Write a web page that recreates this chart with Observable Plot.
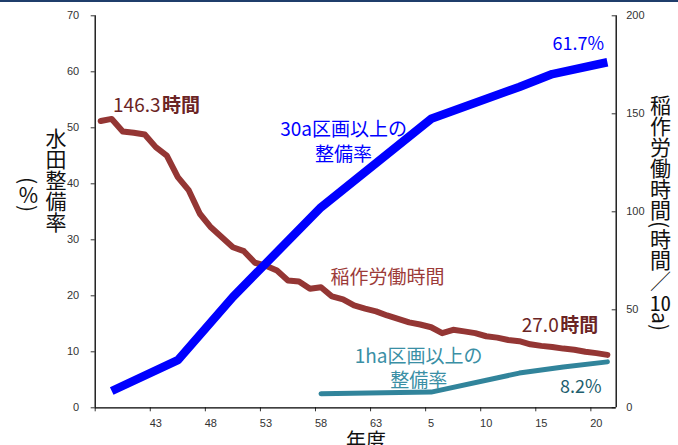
<!DOCTYPE html>
<html>
<head>
<meta charset="utf-8">
<script src="https://cdn.jsdelivr.net/npm/d3@7"></script>
<script src="https://cdn.jsdelivr.net/npm/@observablehq/plot@0.6"></script>
<style>
  html, body { margin: 0; padding: 0; overflow: hidden; background: #fff; }
  #chart { position: relative; width: 678px; height: 445px; overflow: hidden; }
  .topbar { position: absolute; left: 0; top: 0; width: 678px; height: 2px; background: #1f3d6b; }
  .vt { position: absolute; writing-mode: vertical-rl; font-family: "Noto Sans CJK JP", sans-serif;
        font-size: 21px; line-height: 21px; color: #111; white-space: nowrap; }
  .tcy { text-combine-upright: all; }
  .up { text-orientation: upright; }
  .xt { position: absolute; font-family: "Noto Sans CJK JP", sans-serif; font-size: 20px; line-height: 18px;
        color: #111; white-space: nowrap; transform: translateX(-50%); }
</style>
</head>
<body>
<div id="chart">
  <div class="topbar"></div>
</div>
<script>
// 稲作労働時間 (時間/10a), by year
const laborYears = [1963,1964,1965,1966,1967,1968,1969,1970,1971,1972,1973,1974,1975,1976,1977,1978,1979,1980,
  1981,1982,1983,1984,1985,1986,1987,1988,1989,1990,1991,1992,1993,1994,1995,1996,1997,1998,1999,2000,
  2001,2002,2003,2004,2005,2006,2007,2008,2009];
const laborHours = [146.3,147.4,141.0,140.3,139.4,133.0,128.7,117.7,110.9,99.0,92.1,87.0,81.9,79.9,74.0,72.5,70.0,65.0,
  64.4,60.7,61.5,56.8,55.3,52.2,50.6,49.2,47.1,45.4,43.6,42.5,41.1,38.1,39.8,39.0,38.1,36.5,35.8,34.6,
  34.0,32.4,31.6,31.0,30.2,29.6,28.6,27.9,27.0];

// 30a区画以上の整備率 (%)
const rate30aYears = [1964,1970,1975,1983,1993,2001,2004,2009];
const rate30a = [3.0,8.5,19.8,35.8,51.6,57.3,59.6,61.7];

// 1ha区画以上の整備率 (%)
const rate1haYears = [1983,1993,2001,2005,2009];
const rate1ha = [2.5,2.8,6.2,7.3,8.2];

// 年度 axis: western year of each labelled tick and its era label
const tickYears = [1968,1973,1978,1983,1988,1993,1998,2003,2008];
const tickLabels = ["43","48","53","58","63","5","10","15","20"];
const leftTicks = [0,10,20,30,40,50,60,70];
const rightTicks = [0,50,100,150,200];

const name30a = "30a区画以上の\n整備率";
const name1ha = "1ha区画以上の\n整備率";
const nameLabor = "稲作労働時間";
const hourUnit = "時間";

// hours (0–200) share the percent scale (0–70)
const k = 70 / 200;
const xDomain = [1962.5, 2009.8];
const eraLabel = new Map(tickYears.map((y, i) => [y, tickLabels[i]]));
const boundaries = [tickYears[0] - 5, ...tickYears].map(y => y - 0.5);

const labor = laborYears.map((year, i) => ({year, hours: laborHours[i], v: laborHours[i] * k}));
const r30 = rate30aYears.map((year, i) => ({year, v: rate30a[i]}));
const r1 = rate1haYears.map((year, i) => ({year, v: rate1ha[i]}));

const jp = "Noto Sans CJK JP";
const darkRed = "#6b2424";

const plot = Plot.plot({
  width: 678,
  height: 445,
  marginTop: 15.3,
  marginBottom: 37.7,
  marginLeft: 94.7,
  marginRight: 62.3,
  style: {fontFamily: "'Liberation Sans', Arial, sans-serif", fontSize: "11px", color: "#333", background: "transparent"},
  x: {domain: xDomain},
  y: {domain: [0, 70]},
  marks: [
    Plot.axisY({anchor: "left", ticks: leftTicks, tickSize: 4, tickPadding: 12, label: null}),
    Plot.axisY({anchor: "right", ticks: rightTicks.map(t => t * k), tickSize: 0, tickPadding: 10,
      tickFormat: d => String(Math.round(d / k)), label: null}),
    Plot.ruleY(rightTicks, {y: d => d * k, x1: xDomain[1], x2: xDomain[1], insetLeft: -4, stroke: "#333"}),
    Plot.axisX({ticks: boundaries, tickSize: 4, tickFormat: () => "", label: null}),
    Plot.axisX({ticks: tickYears, tickSize: 0, tickPadding: 11, tickFormat: d => eraLabel.get(d), label: null}),
    Plot.ruleY([0], {stroke: "#000", strokeWidth: 1.3}),
    Plot.ruleX(xDomain, {stroke: "#000", strokeWidth: 1.3}),

    Plot.line(r1, {x: "year", y: "v", stroke: "#31849b", strokeWidth: 5}),
    Plot.line(labor, {x: "year", y: "v", stroke: "#943634", strokeWidth: 6}),
    Plot.line(r30, {x: "year", y: "v", stroke: "#0000ff", strokeWidth: 8.5, strokeLinecap: "butt"}),

    // start / end values of labour hours
    Plot.text([labor[0]], {x: "year", y: "v", text: d => d.hours.toFixed(1), dx: 59.8, dy: -15.5,
      textAnchor: "end", fill: darkRed, fontSize: 19, fontFamily: jp}),
    Plot.text([labor[0]], {x: "year", y: "v", text: () => hourUnit, dx: 61.3, dy: -15.5,
      textAnchor: "start", fill: darkRed, fontSize: 19, fontFamily: jp, fontWeight: "bold"}),
    Plot.text([labor[labor.length - 1]], {x: "year", y: "v", text: d => d.hours.toFixed(1), dx: -48.7, dy: -29.4,
      textAnchor: "end", fill: darkRed, fontSize: 19, fontFamily: jp}),
    Plot.text([labor[labor.length - 1]], {x: "year", y: "v", text: () => hourUnit, dx: -47.2, dy: -29.4,
      textAnchor: "start", fill: darkRed, fontSize: 19, fontFamily: jp, fontWeight: "bold"}),

    // end values of the two rates
    Plot.text([r30[r30.length - 1]], {x: "year", y: "v", text: d => d.v.toFixed(1) + "%", dx: -29.2, dy: -17.8,
      fill: "#0000ff", fontSize: 18, fontFamily: jp}),
    Plot.text([r1[r1.length - 1]], {x: "year", y: "v", text: d => d.v.toFixed(1) + "%", dx: -26.7, dy: 25.6,
      fill: "#215e6e", fontSize: 18, fontFamily: jp}),

    // series names
    Plot.text([r30[3]], {x: "year", y: "v", text: () => name30a, dx: 22.6, dy: -67.3, lineHeight: 1.32,
      fill: "#0000ff", fontSize: 19, fontFamily: jp}),
    Plot.text([labor[20]], {x: "year", y: "v", text: () => nameLabor, dx: 9.6, dy: -9.8, textAnchor: "start",
      fill: "#9c3b39", fontSize: 19, fontFamily: jp}),
    Plot.text([r1[1]], {x: "year", y: "v", text: () => name1ha, dx: -12.5, dy: -24.6, lineHeight: 1.28,
      fill: "#3a8fa5", fontSize: 19, fontFamily: jp})
  ]
});

const root = document.getElementById("chart");
root.appendChild(plot);

// axis titles
const addDiv = (cls, html, left, top) => {
  const d = document.createElement("div");
  d.className = cls;
  d.innerHTML = html;
  d.style.left = left + "px";
  d.style.top = top + "px";
  root.appendChild(d);
};
addDiv("vt", "水田整備率", 45, 128);
addDiv("vt", "(<span class=\"up\">%</span>)", 17.5, 177);
addDiv("vt", "稲作労働時間(時間／<span class=\"tcy\">10</span>a)", 649.5, 95);
addDiv("xt", "年度", 366, 431);
</script>
</body>
</html>
